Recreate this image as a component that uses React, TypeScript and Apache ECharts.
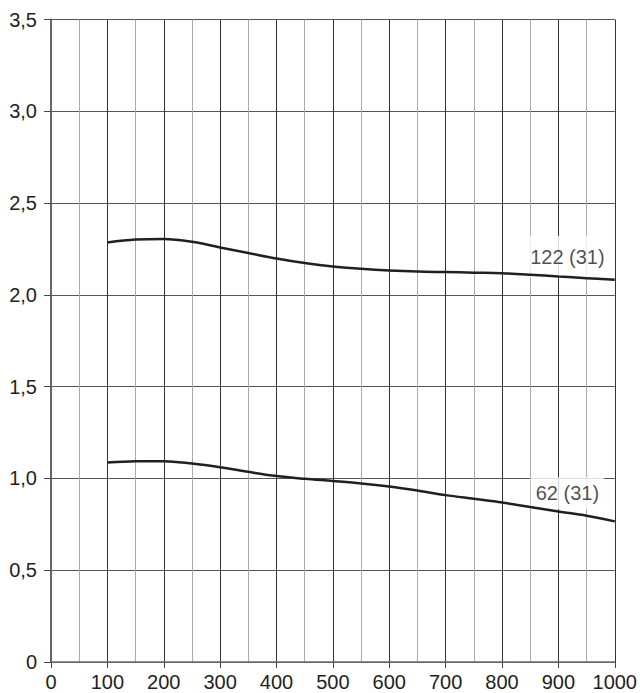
import React, { useEffect, useRef } from "react";
import * as echarts from "echarts";

const xValues = [100, 150, 200, 250, 300, 350, 400, 450, 500, 550, 600, 650, 700, 750, 800, 850, 900, 950, 1000];
const upperValues = [2.285, 2.301, 2.304, 2.289, 2.258, 2.228, 2.198, 2.173, 2.154, 2.142, 2.133, 2.127, 2.124, 2.121, 2.118, 2.11, 2.1, 2.091, 2.082];
const lowerValues = [1.087, 1.093, 1.094, 1.081, 1.061, 1.036, 1.013, 0.998, 0.986, 0.973, 0.956, 0.934, 0.909, 0.889, 0.869, 0.844, 0.82, 0.797, 0.766];
const upperName = "122 (31)";
const lowerName = "62 (31)";
const upperLabelAt = [916, 2.207];
const lowerLabelAt = [916, 0.919];

const FONT = "'Liberation Sans', Arial, Helvetica, sans-serif";
const TEXT = "#231f20";

export default function App() {
  const ref = useRef<HTMLDivElement>(null);
  useEffect(() => {
    if (!ref.current) return;
    const chart = echarts.init(ref.current, undefined, { renderer: "svg" });
    const labelStyle = (pad: number[]) => ({
      show: true,
      position: "inside",
      formatter: (p: any) => p.name,
      fontFamily: FONT,
      fontSize: 20,
      color: TEXT,
      backgroundColor: "#ffffff",
      padding: pad,
    });
    chart.setOption({
      animation: false,
      grid: { left: 51, right: 22, top: 19.5, bottom: 31, containLabel: false },
      xAxis: {
        type: "value",
        min: 0,
        max: 1000,
        interval: 100,
        axisLine: { show: true, onZero: false, lineStyle: { color: "#6d6d6d", width: 1.5 } },
        axisTick: { show: true, length: 6, lineStyle: { color: "#444", width: 1 } },
        axisLabel: {
          fontFamily: FONT,
          fontSize: 20,
          color: TEXT,
          margin: 10,
          formatter: (v: number) => String(v),
        },
        splitLine: { show: true, lineStyle: { color: "#333", width: 1 } },
        minorTick: { show: false, splitNumber: 2 },
        minorSplitLine: { show: true, lineStyle: { color: "#aaaaaa", width: 1 } },
      },
      yAxis: {
        type: "value",
        min: 0,
        max: 3.5,
        interval: 0.5,
        axisLine: { show: true, onZero: false, lineStyle: { color: "#666", width: 2 } },
        axisTick: { show: true, length: 7, lineStyle: { color: "#444", width: 1 } },
        axisLabel: {
          fontFamily: FONT,
          fontSize: 20,
          color: TEXT,
          margin: 14,
          formatter: (v: number) => (v === 0 ? "0" : v.toFixed(1).replace(".", ",")),
        },
        splitLine: { show: true, lineStyle: { color: "#555", width: 1 } },
      },
      series: [
        {
          type: "scatter",
          z: 3,
          symbolSize: 0,
          silent: true,
          data: [{ name: upperName, value: upperLabelAt }],
          label: labelStyle([12, 5, 10, 5]),
        },
        {
          type: "scatter",
          z: 3,
          symbolSize: 0,
          silent: true,
          data: [{ name: lowerName, value: lowerLabelAt }],
          label: labelStyle([6, 5, 6, 5]),
        },
        {
          type: "line",
          name: upperName,
          z: 5,
          smooth: 0.35,
          showSymbol: false,
          lineStyle: { color: TEXT, width: 2.5 },
          data: xValues.map((x, i) => [x, upperValues[i]]),
        },
        {
          type: "line",
          name: lowerName,
          z: 5,
          smooth: 0.35,
          showSymbol: false,
          lineStyle: { color: TEXT, width: 2.5 },
          data: xValues.map((x, i) => [x, lowerValues[i]]),
        },
      ],
    });
    return () => chart.dispose();
  }, []);
  return (
    <div
      ref={ref}
      style={{ position: "fixed", left: 0, top: 0, width: 640, height: 693, background: "#fff" }}
    />
  );
}
